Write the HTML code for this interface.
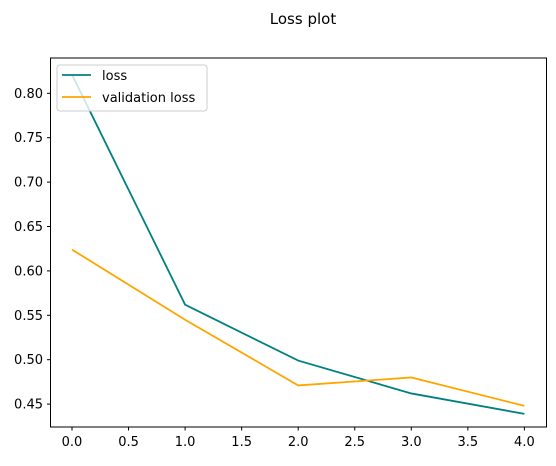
<!DOCTYPE html>
<html><head><meta charset="utf-8"><style>
body{margin:0;background:#fff;}
text{font-family:"DejaVu Sans","Liberation Sans",sans-serif;fill:#000;}
</style></head><body>
<svg id="c" width="556" height="461" xmlns="http://www.w3.org/2000/svg">
<text x="303" y="24" font-size="15" text-anchor="middle">Loss plot</text>
<g id="plot"></g>
<rect x="50.5" y="58" width="496" height="369" fill="none" stroke="#000" stroke-width="1"/>
<g>
<rect x="57" y="65" width="150" height="46" rx="3" fill="#fff" fill-opacity="0.8" stroke="#ccc"/>
<line x1="62" y1="75" x2="91" y2="75" stroke="#008080" stroke-width="1.8"/>
<text x="102" y="80" font-size="13">loss</text>
<line x1="62" y1="97" x2="91" y2="97" stroke="#FFA500" stroke-width="1.8"/>
<text x="102" y="102" font-size="13">validation loss</text>
</g>
</svg>
<script>
const epochs=[0,1,2,3,4];
const lossValues=[0.821,0.562,0.499,0.462,0.439];
const valLossValues=[0.624,0.545,0.471,0.480,0.448];
const xTicks=[0,0.5,1,1.5,2,2.5,3,3.5,4];
const xTickLabels=["0.0","0.5","1.0","1.5","2.0","2.5","3.0","3.5","4.0"];
const yTicks=[0.45,0.5,0.55,0.6,0.65,0.7,0.75,0.8];
const yTickLabels=["0.45","0.50","0.55","0.60","0.65","0.70","0.75","0.80"];

const NS="http://www.w3.org/2000/svg";
const g=document.getElementById('plot');
function xs(v){return 72+v*113.1;}
function ys(v){return 93.3-(v-0.8)*888;}
function mk(t,a){const e=document.createElementNS(NS,t);for(const k in a)e.setAttribute(k,a[k]);g.appendChild(e);return e;}
xTicks.forEach((v,i)=>{
  const l=mk('line',{x1:xs(v),x2:xs(v),y1:427,y2:430.5,stroke:'#000'});
  
  
  const t=mk('text',{x:xs(v),y:446,'font-size':'13','text-anchor':'middle'});
  t.textContent=xTickLabels[i];
  
  
});
yTicks.forEach((v,i)=>{
  const l=mk('line',{x1:47,x2:50.5,y1:ys(v),y2:ys(v),stroke:'#000'});
  
  
  const t=mk('text',{x:43,y:ys(v)+4.5,'font-size':'13','text-anchor':'end'});
  t.textContent=yTickLabels[i];
  
  
});
function line(vals,color,name){
  const p=mk('polyline',{points:vals.map((v,i)=>xs(epochs[i])+','+ys(v)).join(' '),fill:'none',stroke:color,'stroke-width':'1.8'});
  
  
}
line(lossValues,'#008080','loss-line');
line(valLossValues,'#FFA500','validation-loss-line');
</script>
</body></html>
